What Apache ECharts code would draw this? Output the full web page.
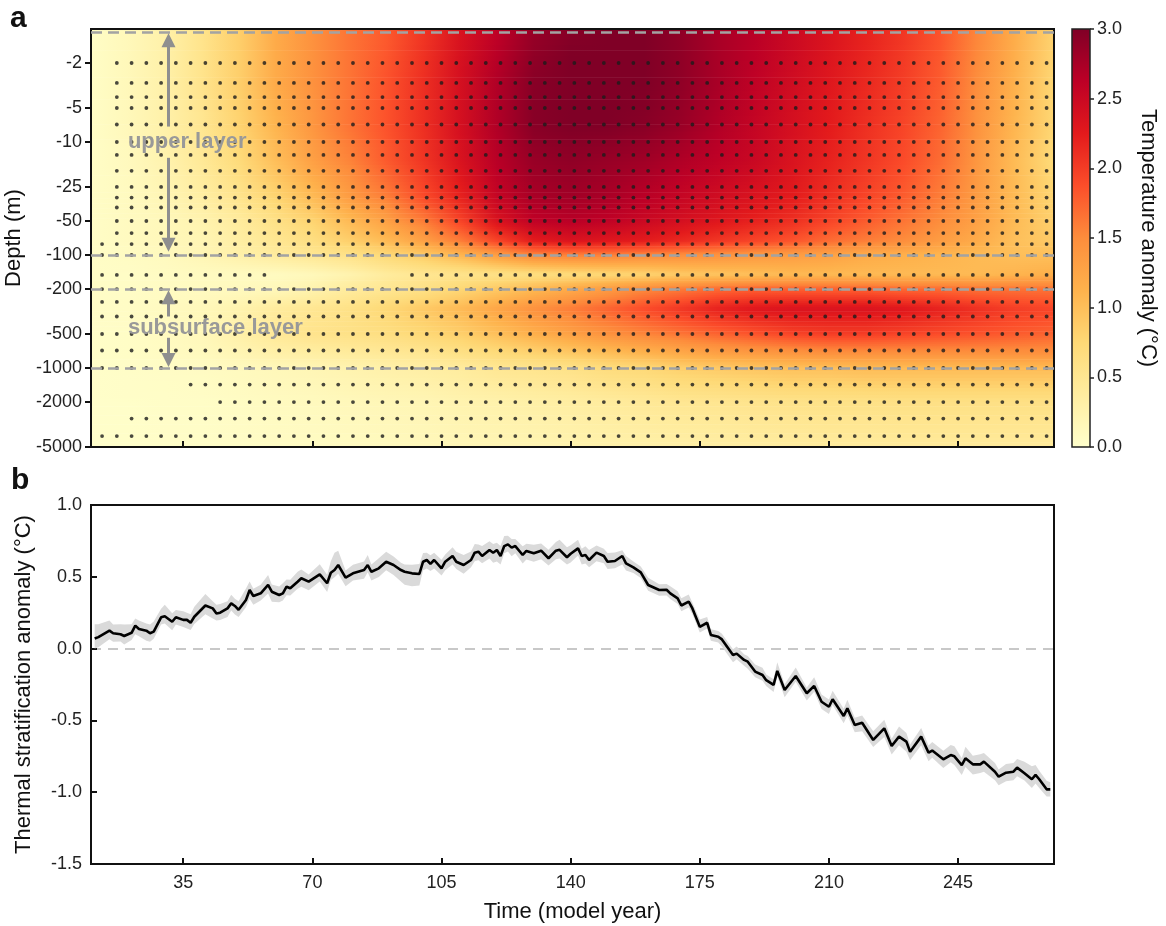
<!DOCTYPE html>
<html>
<head>
<meta charset="utf-8">
<script src="https://cdn.jsdelivr.net/npm/echarts@6/dist/echarts.min.js"></script>
<style>
html,body{margin:0;padding:0;background:#fff;}
#chart{width:1166px;height:926px;}
</style>
</head>
<body>
<div id="chart"></div>
<script>
// ================= DATA =================
// Panel a: temperature anomaly (°C) field, rows = depth (m), columns = model year
const heatYears = [10,20,30,40,50,60,70,80,90,100,110,120,130,140,150,160,170,180,190,200,210,220,230,240,250,260,270];
const heatDepths = [1,3,7,15,30,50,75,100,150,200,300,500,750,1000,2000,5000];
const anom_d1    = [0.05,0.15,0.3,0.55,0.85, 1.2,1.45,1.65,1.8,2.05, 2.35,2.6,2.85,2.95,3.0, 3.0,2.9,2.75,2.65,2.5, 2.35,2.2,2.05,1.85,1.55, 1.2,0.85];
const anom_d3    = [0.05,0.15,0.3,0.55,0.85, 1.2,1.45,1.65,1.85,2.1, 2.4,2.7,2.95,3.05,3.05, 3.0,2.9,2.75,2.6,2.45, 2.3,2.15,2.0,1.8,1.5, 1.15,0.8];
const anom_d7    = [0.05,0.15,0.3,0.5,0.8, 1.1,1.4,1.65,1.85,2.1, 2.4,2.7,2.95,3.0,3.0, 2.95,2.85,2.7,2.55,2.4, 2.25,2.1,1.95,1.75,1.45, 1.1,0.8];
const anom_d15   = [0.05,0.12,0.25,0.45,0.7, 1.0,1.3,1.55,1.8,2.05, 2.35,2.65,2.85,2.9,2.85, 2.8,2.7,2.6,2.5,2.35, 2.2,2.05,1.9,1.7,1.4, 1.05,0.75];
const anom_d30   = [0.05,0.1,0.2,0.35,0.55, 0.8,1.05,1.35,1.6,1.9, 2.2,2.55,2.75,2.8,2.75, 2.65,2.55,2.45,2.35,2.25, 2.1,1.95,1.8,1.6,1.35, 1.05,0.8];
const anom_d50   = [0.05,0.1,0.15,0.25,0.4, 0.6,0.8,1.05,1.3,1.6, 1.95,2.35,2.6,2.65,2.6, 2.5,2.4,2.3,2.2,2.1, 1.95,1.8,1.65,1.5,1.3, 1.05,0.85];
const anom_d75   = [0.05,0.1,0.15,0.2,0.35, 0.5,0.65,0.85,1.05,1.3, 1.6,1.95,2.25,2.35,2.3, 2.25,2.15,2.05,1.95,1.85, 1.7,1.6,1.5,1.35,1.2, 1.0,0.9];
const anom_d100  = [0.05,0.08,0.12,0.2,0.3, 0.4,0.5,0.6,0.75,0.9, 1.1,1.35,1.55,1.6,1.6, 1.55,1.5,1.45,1.4,1.35, 1.3,1.2,1.15,1.1,1.05, 1.0,1.0];
const anom_d150  = [0.05,0.05,0.08,0.1,0.1, 0.1,0.15,0.25,0.4,0.5, 0.55,0.6,0.65,0.7,0.75, 0.8,0.9,0.95,1.0,1.05, 1.05,1.05,1.05,1.05,1.05, 1.1,1.15];
const anom_d200  = [0.05,0.05,0.08,0.1,0.12, 0.15,0.25,0.4,0.5,0.6, 0.75,0.9,1.05,1.2,1.35, 1.5,1.6,1.7,1.75,1.75, 1.75,1.75,1.7,1.7,1.65, 1.65,1.65];
const anom_d300  = [0.05,0.06,0.1,0.15,0.25, 0.4,0.5,0.6,0.75,0.9, 1.05,1.25,1.45,1.6,1.75, 1.9,2.05,2.2,2.3,2.35, 2.35,2.35,2.3,2.2,2.1, 2.0,1.95];
const anom_d500  = [0.03,0.05,0.1,0.15,0.3, 0.45,0.55,0.6,0.65,0.75, 0.85,1.0,1.15,1.3,1.45, 1.55,1.65,1.75,1.85,1.95, 2.0,2.0,1.95,1.9,1.85, 1.8,1.75];
const anom_d750  = [0.03,0.05,0.08,0.12,0.2, 0.3,0.35,0.4,0.45,0.5, 0.6,0.7,0.8,0.9,1.0, 1.1,1.2,1.3,1.35,1.4, 1.45,1.45,1.45,1.45,1.45, 1.45,1.45];
const anom_d1000 = [0.03,0.04,0.06,0.08,0.12, 0.16,0.2,0.25,0.3,0.35, 0.4,0.5,0.55,0.6,0.7, 0.75,0.85,0.9,0.95,1.0, 1.0,1.05,1.05,1.05,1.05, 1.05,1.05];
const anom_d2000 = [0.02,0.03,0.04,0.05,0.07, 0.1,0.12,0.15,0.18,0.2, 0.25,0.28,0.32,0.36,0.4, 0.45,0.5,0.52,0.55,0.58, 0.6,0.6,0.62,0.62,0.62, 0.62,0.62];
const anom_d5000 = [0.02,0.02,0.03,0.04,0.05, 0.07,0.08,0.1,0.12,0.15, 0.18,0.2,0.22,0.25,0.28, 0.3,0.32,0.34,0.36,0.38, 0.4,0.4,0.42,0.42,0.42, 0.42,0.42];
const heatRows = [anom_d1,anom_d3,anom_d7,anom_d15,anom_d30,anom_d50,anom_d75,anom_d100,anom_d150,anom_d200,anom_d300,anom_d500,anom_d750,anom_d1000,anom_d2000,anom_d5000];

// Stippling (significant points): model levels and years of the dot grid
const stippleYears = [13,17,21,25,29,33,37,41,45,49,53,57,61,65,69,73,77,81,85,89,93,97,101,105,109,113,117,121,125,129,133,137,141,145,149,153,157,161,165,169,173,177,181,185,189,193,197,201,205,209,213,217,221,225,229,233,237,241,245,249,253,257,261,265,269];
const stippleDepths = [2,3,4,5,7,10,13,18,25,31,38,50,64,80,100,150,200,260,350,500,700,1000,1400,2000,2800,4000];
const stippleFirstYear = [17,17,17,17,17,17,17,17,17,17,17,17,17,13,13,13,13,13,13,13,13,13,37,45,21,13];
const stippleGaps = [[150, 61, 93]]; // [depth, fromYear, toYear] without dots

// Axis ticks
const timeTicks = [35,70,105,140,175,210,245];
const depthTicks = [2,5,10,25,50,100,200,500,1000,2000,5000];
const layerBounds = [1.06, 100, 200, 1000];
const layerLabels = ['upper layer', 'subsurface layer'];
const layerLabelDepths = [10, 443];

// Panel b: thermal stratification anomaly (°C)
const stratYears = [11,12,15,16,18,19,21,22,23,25, 26,27,29,30,32,33,35,36,37,38, 41,43,44,45,47,48,49,50,52,53, 54,56,58,59,61,62,63,64,66,67, 69,72,74,75,76,77,79,81,84,85, 86,88,90,92,94,95,97,99,100,101, 102,103,105,106,108,109,111,113,114,115, 116,118,119,120,121,122,123,124,125,127, 128,130,132,134,136,137,139,140,142,143, 144,145,147,149,150,152,154,155,157,159, 161,164,166,167,169,170,172,173,175,177, 178,180,181,184,185,187,188,190,192,193, 195,196,198,201,204,206,208,210,211,214, 215,217,219,222,225,227,229,231,232,235, 237,238,241,243,244,246,247,249,251,252, 255,256,258,260,261,263,265,266,267,269, 270];
const stratMean = [0.07,0.08,0.125,0.107,0.10,0.088,0.11,0.16,0.136,0.125, 0.107,0.118,0.218,0.225,0.187,0.218,0.20,0.20,0.18,0.222, 0.30,0.28,0.245,0.25,0.28,0.315,0.297,0.27,0.338,0.408, 0.366,0.385,0.443,0.396,0.373,0.385,0.431,0.42,0.466,0.49, 0.466,0.517,0.455,0.528,0.547,0.582,0.494,0.524,0.547,0.582, 0.535,0.559,0.605,0.582,0.547,0.535,0.524,0.52,0.605,0.617, 0.59,0.617,0.559,0.605,0.645,0.605,0.582,0.617,0.668,0.675, 0.645,0.687,0.668,0.687,0.645,0.714,0.726,0.703,0.714,0.652, 0.68,0.664,0.682,0.629,0.682,0.688,0.636,0.66,0.698,0.645, 0.652,0.617,0.668,0.645,0.605,0.61,0.645,0.594,0.566,0.531, 0.443,0.408,0.41,0.385,0.35,0.30,0.327,0.28,0.152,0.18, 0.095,0.083,0.064,-0.045,-0.035,-0.079,-0.091,-0.16,-0.184,-0.22, -0.253,-0.155,-0.288,-0.191,-0.311,-0.26,-0.37,-0.405,-0.353,-0.469, -0.416,-0.532,-0.516,-0.636,-0.555,-0.678,-0.613,-0.648,-0.718,-0.613, -0.725,-0.71,-0.771,-0.741,-0.75,-0.811,-0.764,-0.806,-0.806,-0.787, -0.857,-0.892,-0.864,-0.857,-0.829,-0.868,-0.91,-0.88,-0.91,-0.98, -0.98];
// spread of the ensemble band above / below the mean
const stratUp = [0.10,0.09,0.07,0.06,0.07,0.08,0.06,0.05,0.06,0.05, 0.06,0.07,0.06,0.08,0.06,0.05,0.06,0.05,0.06,0.07, 0.08,0.05,0.06,0.06,0.05,0.06,0.05,0.06,0.08,0.06, 0.05,0.06,0.07,0.05,0.06,0.07,0.05,0.06,0.07,0.06, 0.05,0.07,0.06,0.08,0.12,0.10,0.05,0.06,0.06,0.07, 0.05,0.07,0.07,0.06,0.05,0.05,0.06,0.07,0.06,0.05, 0.06,0.05,0.06,0.05,0.06,0.07,0.07,0.06,0.06,0.05, 0.07,0.06,0.06,0.05,0.07,0.07,0.06,0.06,0.05,0.06, 0.05,0.06,0.05,0.06,0.06,0.07,0.07,0.06,0.06,0.05, 0.06,0.07,0.05,0.05,0.06,0.06,0.04,0.05,0.04,0.04, 0.05,0.04,0.04,0.05,0.05,0.05,0.05,0.04,0.05,0.04, 0.04,0.04,0.04,0.04,0.05,0.04,0.04,0.05,0.05,0.04, 0.04,0.06,0.04,0.06,0.04,0.06,0.05,0.05,0.06,0.05, 0.06,0.05,0.05,0.06,0.06,0.05,0.07,0.06,0.05,0.06, 0.05,0.06,0.06,0.07,0.07,0.05,0.08,0.06,0.07,0.06, 0.06,0.05,0.06,0.06,0.06,0.08,0.09,0.07,0.06,0.06, 0.05];
const stratDown = [0.07,0.07,0.06,0.06,0.05,0.06,0.05,0.06,0.05,0.07, 0.06,0.05,0.05,0.05,0.06,0.05,0.05,0.06,0.05,0.05, 0.06,0.07,0.05,0.05,0.06,0.05,0.06,0.05,0.05,0.06, 0.06,0.05,0.06,0.07,0.05,0.05,0.06,0.05,0.05,0.06, 0.06,0.05,0.06,0.05,0.05,0.06,0.06,0.05,0.06,0.05, 0.06,0.06,0.06,0.07,0.08,0.09,0.09,0.08,0.06,0.06, 0.05,0.06,0.05,0.06,0.06,0.05,0.06,0.05,0.06,0.06, 0.05,0.06,0.07,0.08,0.06,0.05,0.05,0.06,0.05,0.06, 0.06,0.06,0.06,0.05,0.06,0.06,0.05,0.06,0.05,0.06, 0.06,0.05,0.06,0.05,0.05,0.05,0.06,0.05,0.04,0.04, 0.04,0.04,0.04,0.04,0.04,0.04,0.04,0.04,0.04,0.04, 0.04,0.04,0.05,0.05,0.04,0.04,0.05,0.04,0.04,0.04, 0.05,0.04,0.05,0.04,0.05,0.04,0.05,0.05,0.04,0.05, 0.05,0.05,0.06,0.05,0.06,0.06,0.06,0.07,0.06,0.06, 0.06,0.05,0.06,0.05,0.06,0.07,0.06,0.07,0.06,0.07, 0.06,0.06,0.06,0.06,0.06,0.05,0.06,0.06,0.06,0.05, 0.05];

// ================= STYLE / RENDER =================
const FONT = '"Liberation Sans", Arial, Helvetica, sans-serif';
const xMin = 10, xMax = 271;
const cmapHex = ['#ffffcc','#ffeda0','#fed976','#feb24c','#fd8d3c','#fc4e2a','#e31a1c','#bd0026','#800026'];
const cmapRgb = cmapHex.map(h => [parseInt(h.substr(1,2),16), parseInt(h.substr(3,2),16), parseInt(h.substr(5,2),16)]);
function cmap(v) {
  const t = Math.max(0, Math.min(1, v / 3)) * (cmapRgb.length - 1);
  const i = Math.min(cmapRgb.length - 2, Math.floor(t));
  const f = t - i;
  const a = cmapRgb[i], b = cmapRgb[i + 1];
  return 'rgb(' + Math.round(a[0] + (b[0] - a[0]) * f) + ',' + Math.round(a[1] + (b[1] - a[1]) * f) + ',' + Math.round(a[2] + (b[2] - a[2]) * f) + ')';
}

const SUB = 10;
const heatSeries = {
  type: 'custom', xAxisIndex: 0, yAxisIndex: 0, z: -1, silent: true, animation: false,
  data: heatDepths.slice(0, -1).map((d, k) => [xMin, d, k]),
  renderItem: function (params, api) {
    const k = api.value(2);
    const d0 = heatDepths[k], d1 = heatDepths[k + 1];
    const l0 = Math.log10(d0), l1 = Math.log10(d1);
    const xL = api.coord([xMin, d0])[0], xR = api.coord([xMax, d0])[0];
    const children = [];
    for (let j = 0; j < SUB; j++) {
      const fa = j / SUB, fb = (j + 1) / SUB, fm = (j + 0.5) / SUB;
      const ya = api.coord([xMin, Math.pow(10, l0 + (l1 - l0) * fa)])[1];
      const yb = api.coord([xMin, Math.pow(10, l0 + (l1 - l0) * fb)])[1];
      const stops = heatYears.map((yr, c) => ({
        offset: (yr - xMin) / (xMax - xMin),
        color: cmap(heatRows[k][c] * (1 - fm) + heatRows[k + 1][c] * fm)
      }));
      stops.push({ offset: 1, color: stops[stops.length - 1].color });
      children.push({
        type: 'rect',
        shape: { x: xL, y: Math.min(ya, yb) - 0.3, width: xR - xL, height: Math.abs(yb - ya) + 0.6 },
        style: { fill: new echarts.graphic.LinearGradient(0, 0, 1, 0, stops) }
      });
    }
    return { type: 'group', children: children };
  }
};

const dotData = [];
stippleDepths.forEach((d, i) => {
  stippleYears.forEach(yr => {
    if (yr < stippleFirstYear[i]) return;
    for (const g of stippleGaps) { if (g[0] === d && yr >= g[1] && yr <= g[2]) return; }
    dotData.push([yr, d]);
  });
});

const colorbarSeries = {
  type: 'custom', xAxisIndex: 2, yAxisIndex: 2, z: -1, silent: true,
  data: [[0, 0]],
  renderItem: function (params, api) {
    const p0 = api.coord([0, 0]), p1 = api.coord([1, 3]);
    const stops = cmapHex.map((c, i) => ({ offset: i / (cmapHex.length - 1), color: c }));
    return { type: 'rect', shape: { x: p0[0], y: p1[1], width: p1[0] - p0[0], height: p0[1] - p1[1] },
      style: { fill: new echarts.graphic.LinearGradient(0, 1, 0, 0, stops) } };
  }
};

const bandSeries = {
  type: 'custom', xAxisIndex: 1, yAxisIndex: 1, z: 1, silent: true,
  data: [[stratYears[0], stratMean[0]]],
  renderItem: function (params, api) {
    const pts = [];
    for (let i = 0; i < stratYears.length; i++) pts.push(api.coord([stratYears[i], stratMean[i] + stratUp[i]]));
    for (let i = stratYears.length - 1; i >= 0; i--) pts.push(api.coord([stratYears[i], stratMean[i] - stratDown[i]]));
    return { type: 'polygon', shape: { points: pts }, style: { fill: '#dadada' } };
  }
};

const labelSeries = {
  type: 'custom', xAxisIndex: 0, yAxisIndex: 0, z: 10, silent: true,
  data: layerLabels.map((t, i) => [20, layerLabelDepths[i], i]),
  renderItem: function (params, api) {
    const p = api.coord([api.value(0), api.value(1)]);
    return { type: 'text', z2: 100,
      style: { x: p[0], y: p[1], text: layerLabels[api.value(2)], fill: '#999999',
        font: 'bold 22px ' + FONT, textAlign: 'left', textVerticalAlign: 'middle', verticalAlign: 'middle' } };
  }
};

const tickLabel = { fontSize: 18, color: '#222', fontFamily: FONT };
const nameStyle = { fontSize: 22, color: '#111', fontFamily: FONT };
const tickLine = { color: '#111', width: 2 };
const arrowStyle = { color: '#8f8f8f', width: 3, type: 'solid' };

const option = {
  animation: false,
  backgroundColor: '#ffffff',
  textStyle: { fontFamily: FONT },
  grid: [
    { left: 91, top: 29, width: 963, height: 418, show: true, borderColor: '#111', borderWidth: 2, backgroundColor: 'transparent', containLabel: false, outerBoundsMode: 'none' },
    { left: 91, top: 505, width: 963, height: 359, show: true, borderColor: '#111', borderWidth: 2, backgroundColor: 'transparent', containLabel: false, outerBoundsMode: 'none' },
    { left: 1072, top: 29, width: 18, height: 418, show: true, borderColor: '#222', borderWidth: 1.5, backgroundColor: 'transparent', containLabel: false, outerBoundsMode: 'none' }
  ],
  xAxis: [
    { gridIndex: 0, type: 'value', min: xMin, max: xMax,
      axisLine: { show: false, onZero: false },
      axisTick: { show: true, inside: true, length: 6, customValues: timeTicks, lineStyle: tickLine },
      axisLabel: { show: false, customValues: timeTicks },
      splitLine: { show: false } },
    { gridIndex: 1, type: 'value', min: xMin, max: xMax,
      axisLine: { show: false, onZero: false },
      axisTick: { show: true, inside: true, length: 6, customValues: timeTicks, lineStyle: tickLine },
      axisLabel: Object.assign({ show: true, customValues: timeTicks, margin: 10 }, tickLabel),
      splitLine: { show: false },
      name: 'Time (model year)', nameLocation: 'middle', nameGap: 37, nameTextStyle: nameStyle },
    { gridIndex: 2, type: 'value', min: 0, max: 1, show: false }
  ],
  yAxis: [
    { gridIndex: 0, type: 'log', logBase: 10, min: 1, max: 5000, inverse: true,
      axisLine: { show: false, onZero: false },
      axisTick: { show: true, inside: false, length: 6, customValues: depthTicks, lineStyle: tickLine },
      axisLabel: Object.assign({ customValues: depthTicks, margin: 9, formatter: v => '-' + Math.round(v) }, tickLabel),
      splitLine: { show: false }, minorTick: { show: false },
      name: 'Depth (m)', nameLocation: 'middle', nameGap: 56, nameTextStyle: nameStyle },
    { gridIndex: 1, type: 'value', min: -1.5, max: 1, interval: 0.5,
      axisLine: { show: false, onZero: false },
      axisTick: { show: true, inside: true, length: 6, lineStyle: tickLine },
      axisLabel: Object.assign({ margin: 9, formatter: v => (Math.abs(v) < 1e-9 ? 0 : v).toFixed(1) }, tickLabel),
      splitLine: { show: false },
      name: 'Thermal stratification anomaly (°C)', nameLocation: 'middle', nameGap: 56, nameTextStyle: nameStyle },
    { gridIndex: 2, type: 'value', min: 0, max: 3, interval: 0.5, position: 'right',
      axisLine: { show: false, onZero: false },
      axisTick: { show: true, inside: false, length: 4, lineStyle: { color: '#222', width: 1.5 } },
      axisLabel: Object.assign({ margin: 7, formatter: v => v.toFixed(1) }, tickLabel),
      splitLine: { show: false },
      name: 'Temperature anomaly (°C)', nameLocation: 'middle', nameRotate: -90, nameGap: 47, nameTextStyle: nameStyle }
  ],
  graphic: [
    { type: 'text', left: 10, top: 4, style: { text: 'a', font: 'bold 30px ' + FONT, fill: '#111' } },
    { type: 'text', left: 11, top: 466, style: { text: 'b', font: 'bold 30px ' + FONT, fill: '#111' } }
  ],
  series: [
    heatSeries,
    // layer boundaries (dashed)
    { type: 'scatter', xAxisIndex: 0, yAxisIndex: 0, data: [[xMin, 1.5]], symbolSize: 0, silent: true, z: 1,
      markLine: { silent: true, symbol: ['none', 'none'], label: { show: false }, animation: false,
        lineStyle: { color: '#a3a3a3', type: [11, 6], width: 2.5 },
        data: layerBounds.map(d => ({ yAxis: d })) } },
    // stippling
    { type: 'scatter', xAxisIndex: 0, yAxisIndex: 0, data: dotData, symbol: 'circle', symbolSize: 3.8, silent: true, z: 3,
      itemStyle: { color: '#1c1c1c' } },
    // layer arrows
    { type: 'scatter', xAxisIndex: 0, yAxisIndex: 0, data: [[xMin, 1.5]], symbolSize: 0, silent: true, z: 4,
      markLine: { silent: true, symbol: ['none', 'triangle'], symbolSize: 14, label: { show: false }, animation: false,
        lineStyle: arrowStyle,
        data: [
          [{ coord: [31, 7.3] }, { coord: [31, 1.26] }],
          [{ coord: [31, 13.8] }, { coord: [31, 81] }],
          [{ coord: [31, 350] }, { coord: [31, 236] }],
          [{ coord: [31, 540] }, { coord: [31, 850] }]
        ] } },
    labelSeries,
    colorbarSeries,
    bandSeries,
    { type: 'line', xAxisIndex: 1, yAxisIndex: 1, z: 3, silent: true, showSymbol: false, symbol: 'none',
      data: stratYears.map((y, i) => [y, stratMean[i]]),
      lineStyle: { color: '#000', width: 2.6 },
      markLine: { silent: true, symbol: ['none', 'none'], label: { show: false }, animation: false, z: 0,
        lineStyle: { color: '#c8c8c8', type: [10, 7], width: 2 },
        data: [{ yAxis: 0 }] } }
  ]
};

const chart = echarts.init(document.getElementById('chart'), null, { renderer: 'canvas' });
chart.setOption(option);
</script>
</body>
</html>
